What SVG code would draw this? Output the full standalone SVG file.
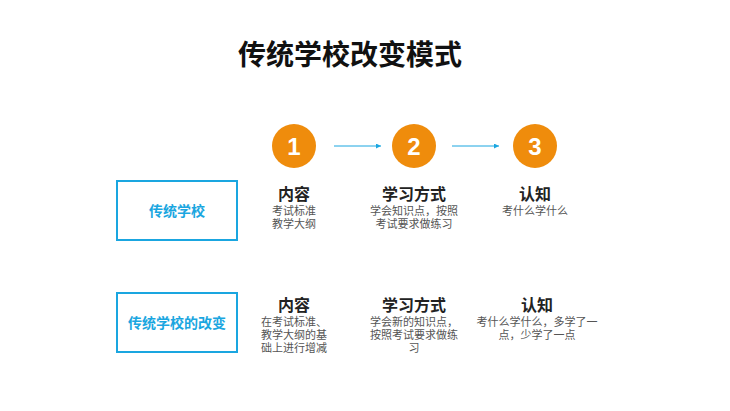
<svg xmlns="http://www.w3.org/2000/svg" width="730" height="411" viewBox="0 0 730 411">
<defs>
<style>
text{font-family:"Liberation Sans","Noto Sans CJK SC",sans-serif;text-anchor:middle}
.c{fill:#ef8c0c}
.n{fill:#fff;font-size:24px;font-weight:bold}
.h{font-size:16px;font-weight:bold;fill:#222}
.b{font-size:11px;fill:#555}
.box{fill:#fff;stroke:#1aa6e0;stroke-width:2}
.bt{font-size:14px;font-weight:bold;fill:#1aa6e0}
.ln{stroke:#1aa6e0;stroke-width:1}
</style>
<marker id="a" viewBox="0 0 6 6" refX="6" refY="3" markerWidth="5" markerHeight="5" orient="auto"><path d="M0,0L6,3L0,6z" fill="#1aa6e0"/></marker>
</defs>
<rect width="730" height="411" fill="#fff"/>
<text x="350" y="65" style="font-size:28px;font-weight:bold;fill:#111">传统学校改变模式</text>
<g id="connectors">
<line class="ln" x1="334" y1="146" x2="381" y2="146" marker-end="url(#a)"/>
<line class="ln" x1="452" y1="146" x2="499" y2="146" marker-end="url(#a)"/>
</g>
<g id="c1"><circle class="c" cx="294" cy="146" r="22"/><text class="n" x="294" y="155">1</text></g>
<g id="c2"><circle class="c" cx="414" cy="146" r="22"/><text class="n" x="414" y="155">2</text></g>
<g id="c3"><circle class="c" cx="535" cy="146" r="22"/><text class="n" x="535" y="155">3</text></g>
<g id="box1"><rect class="box" x="117" y="181" width="120" height="59"/><text class="bt" x="177" y="216">传统学校</text></g>
<g id="box2"><rect class="box" x="117" y="293" width="120" height="59"/><text class="bt" x="177" y="328">传统学校的改变</text></g>
<g id="r1a"><text class="h" x="294" y="200">内容</text><text class="b" x="294" y="215">考试标准</text><text class="b" x="294" y="228">教学大纲</text></g>
<g id="r1b"><text class="h" x="414" y="200">学习方式</text><text class="b" x="414" y="215">学会知识点，按照</text><text class="b" x="414" y="228">考试要求做练习</text></g>
<g id="r1c"><text class="h" x="535" y="200">认知</text><text class="b" x="535" y="215">考什么学什么</text></g>
<g id="r2a"><text class="h" x="294" y="311">内容</text><text class="b" x="294" y="326">在考试标准、</text><text class="b" x="294" y="339">教学大纲的基</text><text class="b" x="294" y="352">础上进行增减</text></g>
<g id="r2b"><text class="h" x="414" y="311">学习方式</text><text class="b" x="414" y="326">学会新的知识点，</text><text class="b" x="414" y="339">按照考试要求做练</text><text class="b" x="414" y="352">习</text></g>
<g id="r2c"><text class="h" x="537" y="311">认知</text><text class="b" x="537" y="326">考什么学什么，多学了一</text><text class="b" x="537" y="339">点，少学了一点</text></g>
</svg>
